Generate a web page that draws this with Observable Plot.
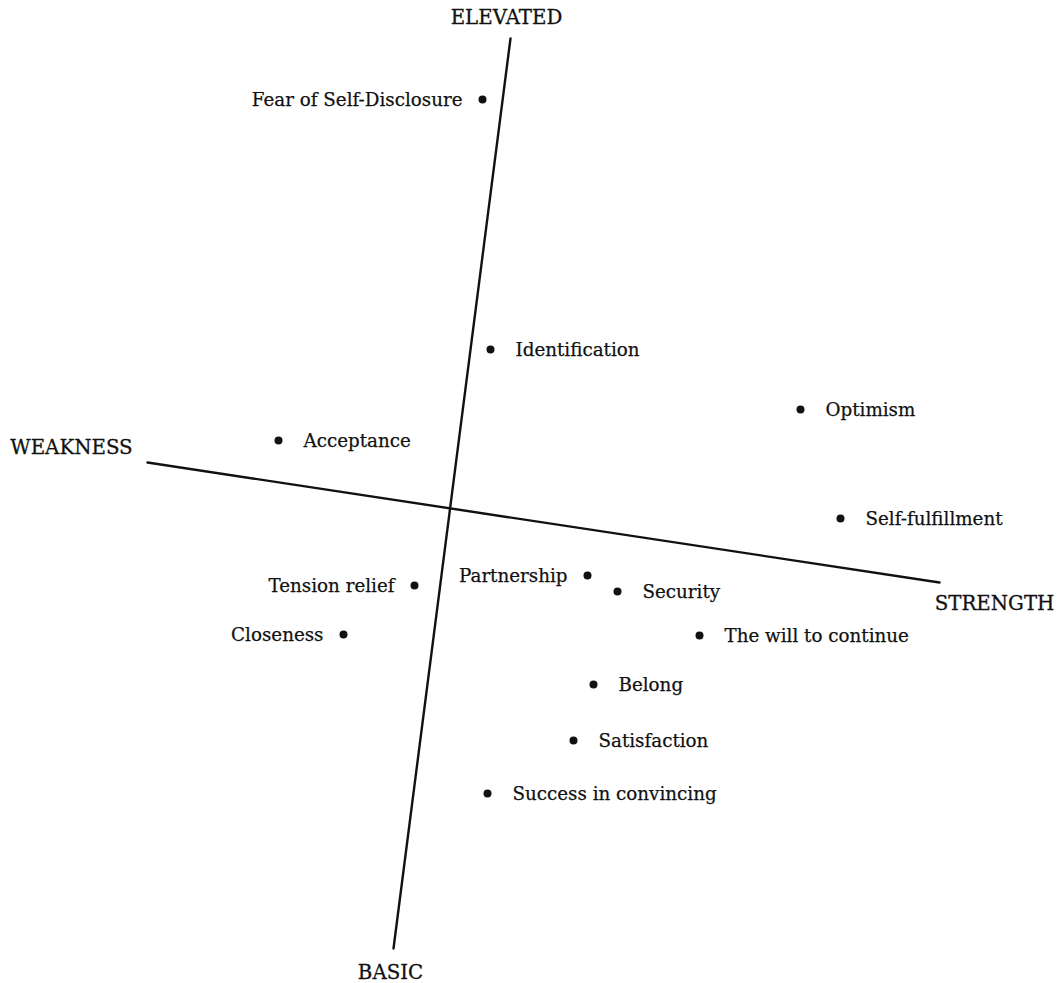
<!DOCTYPE html>
<html>
<head>
<meta charset="utf-8">
<script src="https://cdn.jsdelivr.net/npm/d3@7"></script>
<script src="https://cdn.jsdelivr.net/npm/@observablehq/plot@0.6"></script>
<style>
  html, body { margin: 0; padding: 0; background: #fff; }
  #chart svg { display: block; }
</style>
</head>
<body>
<div id="chart"></div>
<script>
// Perceptual map coordinates (origin at the axes crossing, up = positive)
const labels = ["Fear of Self-Disclosure", "Identification", "Optimism", "Acceptance",
  "Self-fulfillment", "Partnership", "Security", "Tension relief", "The will to continue",
  "Closeness", "Belong", "Satisfaction", "Success in convincing"];
const xs = [32, 40, 350, -172, 390, 137, 167, -36, 249, -107, 143, 123, 37];
const ys = [409, 159, 99, 68, -10, -67, -83, -77, -127, -126, -176, -232, -285];
const sides = ["left", "right", "right", "right", "right", "left", "right", "left", "right",
  "left", "right", "right", "right"];

// Rotated reference axes (endpoints)
const axisNames = ["vertical", "vertical", "horizontal", "horizontal"];
const axisX = [60, -57, -303, 489];
const axisY = [470, -440, 46, -74];

// Axis pole names
const poleNames = ["ELEVATED", "BASIC", "WEAKNESS", "STRENGTH"];
const poleX = [56, -60, -379, 544];
const poleY = [491, -464, 61, -95];

const points = labels.map((name, i) => ({name, x: xs[i], y: ys[i], side: sides[i]}));
const axes = axisNames.map((a, i) => ({axis: a, x: axisX[i], y: axisY[i]}));
const poles = poleNames.map((n, i) => ({name: n, x: poleX[i], y: poleY[i]}));

const font = "DejaVu Serif";

const chart = Plot.plot({
  width: 1057,
  height: 983,
  margin: 0,
  x: {domain: [-450, 607], axis: null},
  y: {domain: [-475, 508], axis: null},
  style: {background: "#fff", fontFamily: font, color: "#111"},
  marks: [
    Plot.line(axes, {x: "x", y: "y", z: "axis", stroke: "#111", strokeWidth: 2.4}),
    Plot.dot(points, {x: "x", y: "y", r: 4, fill: "#111", stroke: "none"}),
    Plot.text(points.filter(d => d.side === "right"), {
      x: "x", y: "y", text: "name", textAnchor: "start", dx: 25, dy: 1,
      fontSize: 18.3, fontFamily: font, fill: "#111", stroke: "#111", strokeWidth: 0.25
    }),
    Plot.text(points.filter(d => d.side === "left"), {
      x: "x", y: "y", text: "name", textAnchor: "end", dx: -20, dy: 1,
      fontSize: 18.3, fontFamily: font, fill: "#111", stroke: "#111", strokeWidth: 0.25
    }),
    Plot.text(poles, {
      x: "x", y: "y", text: "name", textAnchor: "middle",
      fontSize: 19.8, fontFamily: font, fill: "#111", stroke: "#111", strokeWidth: 0.3
    })
  ]
});
document.getElementById("chart").appendChild(chart);
</script>
</body>
</html>
